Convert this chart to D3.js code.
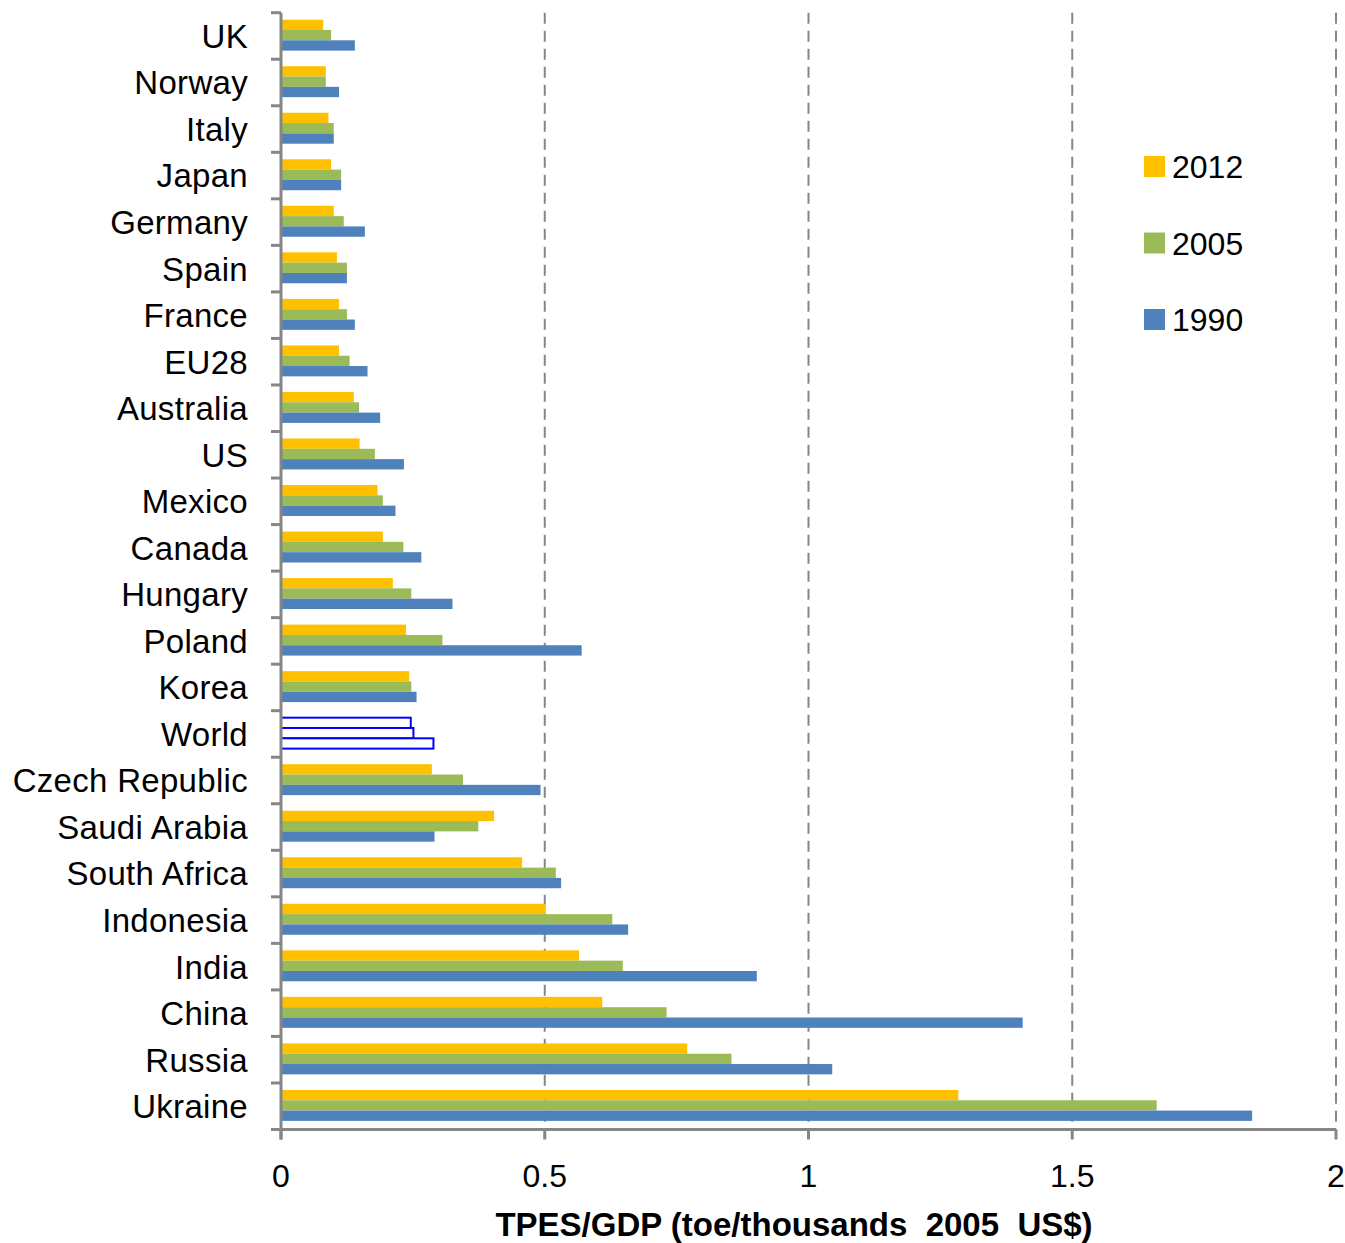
<!DOCTYPE html>
<html>
<head>
<meta charset="utf-8">
<script src="https://cdn.jsdelivr.net/npm/d3@7"></script>
<style>
  html, body { margin: 0; padding: 0; background: #fff; }
  svg { display: block; font-family: "Liberation Sans", Arial, sans-serif; }
</style>
</head>
<body>
<svg id="chart" width="1345" height="1243"></svg>
<script>
// Energy intensity by country, top to bottom
const categories = ["UK", "Norway", "Italy", "Japan", "Germany", "Spain", "France", "EU28",
  "Australia", "US", "Mexico", "Canada", "Hungary", "Poland", "Korea", "World",
  "Czech Republic", "Saudi Arabia", "South Africa", "Indonesia", "India", "China", "Russia", "Ukraine"];

const series = ["2012", "2005", "1990"];

const values2012 = [0.080, 0.085, 0.090, 0.095, 0.100, 0.106, 0.110, 0.110,
  0.138, 0.149, 0.183, 0.193, 0.212, 0.237, 0.243, 0.246,
  0.286, 0.404, 0.457, 0.502, 0.565, 0.609, 0.770, 1.284];
const values2005 = [0.095, 0.085, 0.100, 0.114, 0.119, 0.125, 0.125, 0.130,
  0.148, 0.178, 0.193, 0.232, 0.247, 0.306, 0.247, 0.251,
  0.345, 0.374, 0.521, 0.628, 0.648, 0.731, 0.854, 1.660];
const values1990 = [0.140, 0.110, 0.100, 0.114, 0.159, 0.125, 0.140, 0.164,
  0.188, 0.233, 0.217, 0.266, 0.325, 0.570, 0.257, 0.289,
  0.492, 0.291, 0.531, 0.658, 0.902, 1.406, 1.045, 1.841];

const xTicks = [0, 0.5, 1, 1.5, 2];
const xTickLabels = ["0", "0.5", "1", "1.5", "2"];
const axisTitle = "TPES/GDP (toe/thousands  2005  US$)";

const seriesValues = { "2012": values2012, "2005": values2005, "1990": values1990 };
const colors = { "2012": "#FFC000", "2005": "#9BBB59", "1990": "#4F81BD" };
const highlight = "World";

const svg = d3.select("#chart");
const plot = { left: 281, right: 1336, top: 12.7, bottom: 1129.5 };

const x = d3.scaleLinear().domain([0, 2]).range([plot.left, plot.right]);
const y = d3.scaleBand().domain(categories).range([plot.top, plot.bottom]).padding(0);
const bw = y.bandwidth();
const sub = d3.scaleBand().domain(series).range([bw * 0.15, bw * 0.815]).padding(0);

// dashed vertical gridlines
svg.append("g").selectAll("line")
  .data(xTicks.filter(t => t > 0))
  .join("line")
  .attr("x1", d => x(d)).attr("x2", d => x(d))
  .attr("y1", plot.top).attr("y2", plot.bottom)
  .attr("stroke", "#868686").attr("stroke-width", 2)
  .attr("stroke-dasharray", "11,7");

// bars
const rows = categories.map((c, i) => ({ c, vals: series.map(s => ({ s, v: seriesValues[s][i] })) }));
const groups = svg.append("g").selectAll("g")
  .data(rows).join("g")
  .attr("transform", d => `translate(0,${y(d.c)})`);

groups.selectAll("rect")
  .data(d => d.vals.map(v => ({ ...v, c: d.c })))
  .join("rect")
  .attr("x", x(0))
  .attr("y", d => sub(d.s))
  .attr("width", d => x(d.v) - x(0))
  .attr("height", sub.bandwidth())
  .attr("fill", d => d.c === highlight ? "#fff" : colors[d.s])
  .attr("stroke", d => d.c === highlight ? "#0000FF" : "none")
  .attr("stroke-width", d => d.c === highlight ? 2 : 0);

// left axis
const yAxis = svg.append("g");
yAxis.append("line")
  .attr("x1", plot.left).attr("x2", plot.left)
  .attr("y1", plot.top).attr("y2", plot.bottom + 10)
  .attr("stroke", "#868686").attr("stroke-width", 3);
const bounds = categories.map(c => y(c)).concat([plot.bottom]);
yAxis.selectAll("line.tick")
  .data(bounds).join("line").attr("class", "tick")
  .attr("x1", plot.left - 10).attr("x2", plot.left)
  .attr("y1", d => d).attr("y2", d => d)
  .attr("stroke", "#868686").attr("stroke-width", 3);
yAxis.selectAll("text")
  .data(categories).join("text")
  .attr("x", 248)
  .attr("y", d => y(d) + bw / 2)
  .attr("dy", "0.36em")
  .attr("text-anchor", "end")
  .attr("font-size", 33)
  .attr("letter-spacing", 0.3)
  .attr("fill", "#000")
  .text(d => d);

// bottom axis
const xAxis = svg.append("g");
xAxis.append("line")
  .attr("x1", plot.left).attr("x2", plot.right)
  .attr("y1", plot.bottom).attr("y2", plot.bottom)
  .attr("stroke", "#868686").attr("stroke-width", 3);
xAxis.selectAll("line.tick")
  .data(xTicks).join("line").attr("class", "tick")
  .attr("x1", d => x(d)).attr("x2", d => x(d))
  .attr("y1", plot.bottom).attr("y2", plot.bottom + 10)
  .attr("stroke", "#868686").attr("stroke-width", 3);
xAxis.selectAll("text")
  .data(xTicks).join("text")
  .attr("x", d => x(d))
  .attr("y", 1187)
  .attr("text-anchor", "middle")
  .attr("font-size", 32)
  .attr("fill", "#000")
  .text((d, i) => xTickLabels[i]);

svg.append("text")
  .attr("x", 794).attr("y", 1236)
  .attr("text-anchor", "middle")
  .attr("font-size", 33)
  .attr("font-weight", "bold")
  .attr("fill", "#000")
  .style("white-space", "pre")
  .text(axisTitle);

// legend
const legend = svg.append("g").attr("transform", "translate(1144,156)");
const li = legend.selectAll("g").data(series).join("g")
  .attr("transform", (d, i) => `translate(0,${i * 76.5})`);
li.append("rect").attr("width", 21).attr("height", 21).attr("fill", d => colors[d]);
li.append("text").attr("x", 28).attr("y", 10.5).attr("dy", "0.36em")
  .attr("font-size", 32).attr("fill", "#000").text(d => d);
</script>
</body>
</html>
